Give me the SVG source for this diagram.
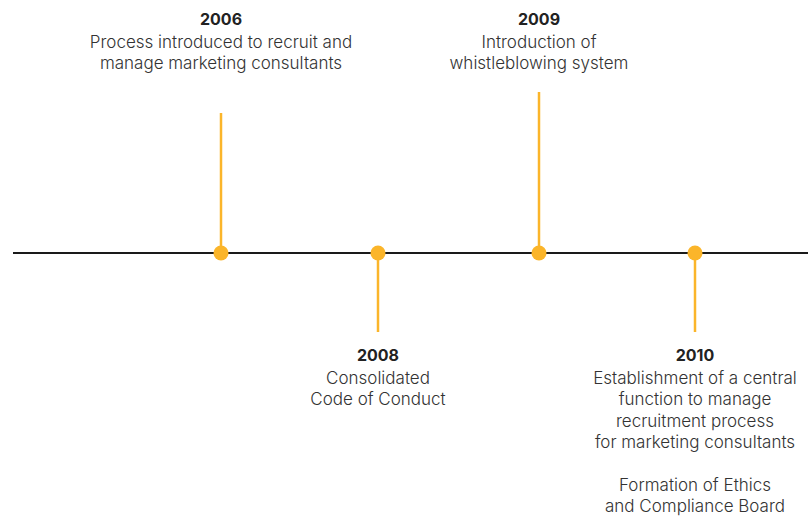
<svg xmlns="http://www.w3.org/2000/svg" width="808" height="517" viewBox="0 0 808 517">
<style>
text{font-family:Inter,"Noto Sans",sans-serif;font-size:17px;font-weight:300;fill:#333;text-anchor:middle;letter-spacing:0}
.y{font-weight:bold;font-size:16px;fill:#222;letter-spacing:0}
.stem{stroke:#FBB52A;stroke-width:2.5}
.dot{fill:#FBB52A}
</style>
<rect width="808" height="517" fill="#fff"/>
<g id="connectors">
<line x1="13" y1="253" x2="808" y2="253" stroke="#1a1a1a" stroke-width="2.2"/>
<line class="stem" x1="221" y1="113" x2="221" y2="253"/>
<line class="stem" x1="378" y1="253" x2="378" y2="332"/>
<line class="stem" x1="539" y1="92" x2="539" y2="253"/>
<line class="stem" x1="695" y1="253" x2="695" y2="332"/>
</g>
<g id="n2006">
<circle class="dot" cx="221" cy="253" r="7.5"/>
<text class="y" x="221" y="25">2006</text>
<text x="221" y="48">Process introduced to recruit and</text>
<text x="221" y="69">manage marketing consultants</text>
</g>
<g id="n2008">
<circle class="dot" cx="378" cy="253" r="7.5"/>
<text class="y" x="378" y="361">2008</text>
<text x="378" y="384">Consolidated</text>
<text x="378" y="405">Code of Conduct</text>
</g>
<g id="n2009">
<circle class="dot" cx="539" cy="253" r="7.5"/>
<text class="y" x="539" y="25">2009</text>
<text x="539" y="48">Introduction of</text>
<text x="539" y="69">whistleblowing system</text>
</g>
<g id="n2010">
<circle class="dot" cx="695" cy="253" r="7.5"/>
<text class="y" x="695" y="361">2010</text>
<text x="695" y="384">Establishment of a central</text>
<text x="695" y="405">function to manage</text>
<text x="695" y="427">recruitment process</text>
<text x="695" y="448">for marketing consultants</text>
<text x="695" y="491">Formation of Ethics</text>
<text x="695" y="512">and Compliance Board</text>
</g>
</svg>
